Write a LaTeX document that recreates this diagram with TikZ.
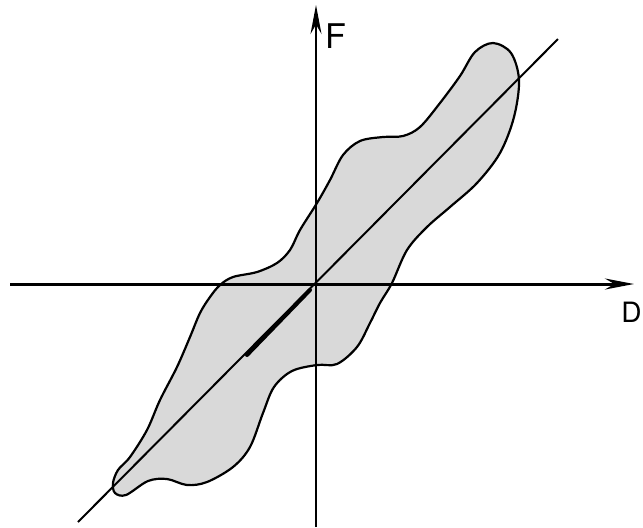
\documentclass[tikz,border=0pt]{standalone}
\usepackage{fontspec}
\setmainfont{TeX Gyre Heros}
\usepackage{xcolor}
\usetikzlibrary{arrows.meta, positioning, calc}
\definecolor{loopfill}{HTML}{D9D9D9}

\begin{document}
\begin{tikzpicture}[x=0.5pt, y=-0.5pt, line join=round,
    axis/.style={-{Stealth[length=14.5pt, width=5.5pt]}},
    every node/.style={inner sep=0pt}]
    \useasboundingbox (0,0) rectangle (643,527);
    \coordinate (O) at (316,284);
    \coordinate (Dend) at (634,284);
    \coordinate (Dstart) at (10,284);
    \coordinate (Fend) at (316,5);
    \coordinate (Fstart) at (316,527);
    \coordinate (low) at (78,522);
    \coordinate (high) at (558,39);
    % hysteresis loop
    \draw[line width=1.1pt, fill=loopfill] plot[smooth cycle, tension=0.55] coordinates {
        (113,483) (118,470) (130,457) (147,430) (160,400) (177,367) (190,337)
        (200,313) (210,297) (220,285) (233,277) (257,272) (277,263) (290,250)
        (300,230) (317,203) (330,180) (343,155) (360,141) (383,137) (403,136)
        (420,127) (440,103) (460,76) (475,52) (493,43) (511,53) (519,80)
        (514,117) (500,153) (477,183) (450,207) (427,227) (407,250) (392,283)
        (380,303) (370,323) (357,347) (337,364) (317,365) (292,371) (274,387)
        (263,413) (250,447) (233,467) (207,482) (187,485) (167,479) (148,481)
        (126,495) (115,493)};
    % axes
    \draw[axis, line width=1.5pt] (Dstart) -- (Dend);
    \draw[axis, line width=0.75pt] (Fstart) -- (Fend);
    % stiffness line
    \draw[line width=1pt] (low) -- (high);
    \draw[line width=2pt, line cap=round] (247,355) -- (310,290);
    \node[font=\fontsize{17}{17}\selectfont, anchor=base west] (F) at (325,48) {F};
    \node[font=\fontsize{14}{14}\selectfont, anchor=base west] (D) at (621,322) {D};
\end{tikzpicture}
\end{document}
